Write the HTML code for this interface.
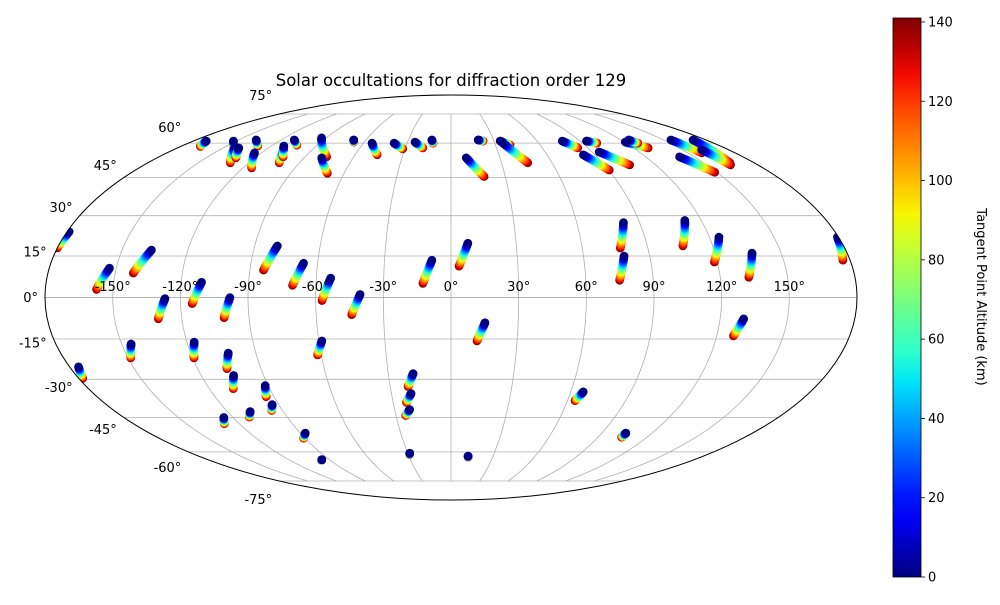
<!DOCTYPE html>
<html><head><meta charset="utf-8"><style>
html,body{margin:0;padding:0;background:#fff;}
svg text{font-family:"DejaVu Sans","Liberation Sans",sans-serif;}
</style></head><body>
<svg id="chart" width="1000" height="600" viewBox="0 0 1000 600" xmlns="http://www.w3.org/2000/svg">
<defs>
<clipPath id="ellclip"><ellipse cx="451" cy="297.5" rx="406" ry="202.5"/></clipPath>
<linearGradient id="jetgrad" x1="0" y1="1" x2="0" y2="0"></linearGradient>
</defs>
<text x="451" y="86" text-anchor="middle" font-size="16.5" fill="#000">Solar occultations for diffraction order 129</text>
<g id="grid"></g>
<g id="marks" clip-path="url(#ellclip)"></g>
<ellipse cx="451" cy="297.5" rx="406" ry="202.5" fill="none" stroke="#000" stroke-width="1"/>
<g id="labels"></g>
<g id="cbar"></g>
</svg>
<script>
// ---- data ----
const lonTicks = [-150,-120,-90,-60,-30,0,30,60,90,120,150];
const latTicks = [-75,-60,-45,-30,-15,0,15,30,45,60,75];
const cbarTicks = [0,20,40,60,80,100,120,140];
const altMin = 0, altMax = 140;
const cMin = 0, cMax = 141;
// each track: start (alt 0) lon/lat -> end (alt 140) lon/lat
const trackLon0 = [-171,-152,-143,-139.6,-137.5,-124.5,-108.3,-111.7,-110.6,-93.3,-79.2,-68.7,-54.1,-39,-24.9,-13.5,19.1,9.3,34.3,35.6,77.7,82.7,94.6,94.5,120.5,125.4,155.2,140.8,170.8,162.4,
 -179,-153,-136.6,-126.8,-110.9,-98,-79.6,-66.3,-53.6,-40.3,-8.6,7.8,15.2,82.3,78.4,112.1,124.5,136.8,130.5,179.5,
 -175.8,-145.7,-116.7,-102.7,-104.4,-125,-107.7,-91.5,-93.4,-87,-58.6,-95.6,-18.1,-20.1,-22,-28.6,12.2,66.3,104.4];
const trackLat0 = [61,61,58.2,57.8,61.5,55.6,56.9,58.7,61.5,62.5,53.4,61.5,60,60,60.5,61.5,61.5,53.4,61,60,61,54.7,61,56,60.5,61.5,61.5,53.8,61.5,56.9,
 24,10.6,17.2,-0.4,5.5,0,18.7,12.4,7,1.1,13.5,19.7,-9.1,27.4,15,28.2,22,16.1,-7.7,22,
 -25.3,-16.8,-16.1,-20.2,-28.5,-45,-42.6,-32.4,-39.8,-51.6,-15.7,-63.7,-27.8,-35.5,-41.8,-60.6,-62,-34.8,-51.6];
const trackLon1 = [-167,-144,-131,-131.8,-129.1,-115,-102,-103.4,-103.8,-76.6,-69.4,-67.2,-46.1,-31.5,-18.5,-12.3,22.4,18.3,39.8,45.6,83.4,90.3,99.9,104.8,129.7,128,159,148.8,165.6,164,
 -180,-157.3,-141.9,-130.5,-114.8,-101.1,-83.9,-70.4,-57.2,-44.2,-12.5,3.6,11.8,77.4,75,106.3,118.6,132.7,127.5,176.8,
 -178,-148.8,-119.4,-106.1,-108.1,-128.5,-110.8,-94,-95.8,-90.9,-61.7,-96.5,-21.2,-23.1,-24.7,-29,12.3,63.9,104.5];
const trackLat1 = [58.5,58.2,51.2,53.4,58.7,49,51.2,53.8,59.1,53.8,46.8,60.5,54.7,57.4,57.8,60,61,45.4,59.1,51.2,57.8,48.1,60,50.3,57.8,60,55.6,47.2,51.2,50.3,
 18,2.9,8.8,-7.7,-2.2,-7.3,9.9,4.4,-1.1,-6.2,5.1,11.3,-15.7,17.9,6.2,18.7,12.8,7.3,-13.9,13.5,
 -29.6,-22,-22,-26,-33.6,-47.6,-44.9,-36.7,-42.2,-53.8,-20.9,-64,-32.8,-39,-44.2,-61.3,-62.5,-38.3,-53.4];

// ---- projection ----
const CX=451, CY=297.5, A=406, B=202.5;
function theta(latDeg){
  const p=latDeg*Math.PI/180; if(Math.abs(latDeg)>=90) return Math.sign(latDeg)*Math.PI/2;
  let t=p; for(let i=0;i<50;i++){ const f=2*t+Math.sin(2*t)-Math.PI*Math.sin(p); const d=2+2*Math.cos(2*t); if(Math.abs(d)<1e-9)break; t-=f/d; }
  return t;
}
function px(lon,lat){ const t=theta(lat); return CX + A*(lon/180)*Math.cos(t); }
function py(lat){ return CY - B*Math.sin(theta(lat)); }
function jet(v){
  const cl=x=>Math.max(0,Math.min(1,x));
  function seg(pts){ for(let i=0;i<pts.length-1;i++){ const [x0,y0]=pts[i],[x1,y1]=pts[i+1]; if(v<=x1) return y0+(y1-y0)*(v-x0)/(x1-x0);} return pts[pts.length-1][1]; }
  const r=seg([[0,0],[0.35,0],[0.66,1],[0.89,1],[1,0.5]]);
  const g=seg([[0,0],[0.125,0],[0.375,1],[0.64,1],[0.91,0],[1,0]]);
  const b=seg([[0,0.5],[0.11,1],[0.34,1],[0.65,0],[1,0]]);
  return `rgb(${Math.round(cl(r)*255)},${Math.round(cl(g)*255)},${Math.round(cl(b)*255)})`;
}
const NS="http://www.w3.org/2000/svg";
function mk(tag,attrs,parent){ const e=document.createElementNS(NS,tag); for(const k in attrs) e.setAttribute(k,attrs[k]); parent.appendChild(e); return e; }

// ---- grid ----
const grid=document.getElementById('grid');
for(const lat of latTicks){
  let d=''; for(let lon=-180;lon<=180;lon+=5){ d+=(lon===-180?'M':'L')+px(lon,lat).toFixed(1)+','+py(lat).toFixed(1); }
  const p=mk('path',{d:d,fill:'none',stroke:'#b0b0b0','stroke-width':0.8},grid);
  
  
}
for(const lon of lonTicks){
  let d=''; for(let lat=-75;lat<=75;lat+=2.5){ d+=(lat===-75?'M':'L')+px(lon,lat).toFixed(1)+','+py(lat).toFixed(1); }
  const p=mk('path',{d:d,fill:'none',stroke:'#b0b0b0','stroke-width':0.8},grid);
  
  
}
const eq=mk('line',{x1:CX-A,y1:CY,x2:CX+A,y2:CY,stroke:'#b0b0b0','stroke-width':0.8},grid);



// ---- tracks ----
const marks=document.getElementById('marks');
const N=28;
for(let k=0;k<trackLon0.length;k++){
  const g=mk('g',{},marks);
  
  
  for(let i=N;i>=0;i--){
    const f=i/N; const lon=trackLon0[k]+(trackLon1[k]-trackLon0[k])*f; const lat=trackLat0[k]+(trackLat1[k]-trackLat0[k])*f;
    const alt=altMin+(altMax-altMin)*f;
    const c=mk('circle',{cx:px(lon,lat).toFixed(1),cy:py(lat).toFixed(1),r:4.3,fill:jet((alt-cMin)/(cMax-cMin))},g);
    
    
  }
}

// ---- labels ----
const labels=document.getElementById('labels');
for(const lon of lonTicks){
  const t=mk('text',{x:px(lon,0).toFixed(1),y:291,'text-anchor':'middle','font-size':13,fill:'#000'},labels);
  t.textContent=lon+'°';
  
  
}
for(const lat of latTicks){
  const y=py(lat); const xe=px(-180,lat);
  const t=mk('text',{x:(xe-7).toFixed(1),y:(y+(y-CY)*0.1+4.5).toFixed(1),'text-anchor':'end','font-size':13,fill:'#000'},labels);
  t.textContent=lat+'°';
  
  
}

// ---- colorbar ----
const grad=document.getElementById('jetgrad');
for(let i=0;i<=20;i++){ mk('stop',{offset:(i/20),'stop-color':jet(i/20)},grad); }
const cbar=document.getElementById('cbar');
const CB_X=893, CB_W=28, CB_TOP=18, CB_BOT=577;
function cy(v){ return CB_BOT-(v-cMin)/(cMax-cMin)*(CB_BOT-CB_TOP); }
const rect=mk('rect',{x:CB_X,y:CB_TOP,width:CB_W,height:CB_BOT-CB_TOP,fill:'url(#jetgrad)',stroke:'#000','stroke-width':0.8},cbar);


for(const v of cbarTicks){
  const l=mk('line',{x1:CB_X+CB_W,x2:CB_X+CB_W+4,y1:cy(v),y2:cy(v),stroke:'#000','stroke-width':0.8},cbar);
  
  
  const t=mk('text',{x:CB_X+CB_W+7,y:cy(v)+4.5,'font-size':13,fill:'#000'},cbar);
  t.textContent=v;
  
  
}
const ct=mk('text',{x:977,y:297,'font-size':13,fill:'#000','text-anchor':'middle',transform:'rotate(90 977 297)'},cbar);
ct.textContent='Tangent Point Altitude (km)';


</script>
</body></html>
